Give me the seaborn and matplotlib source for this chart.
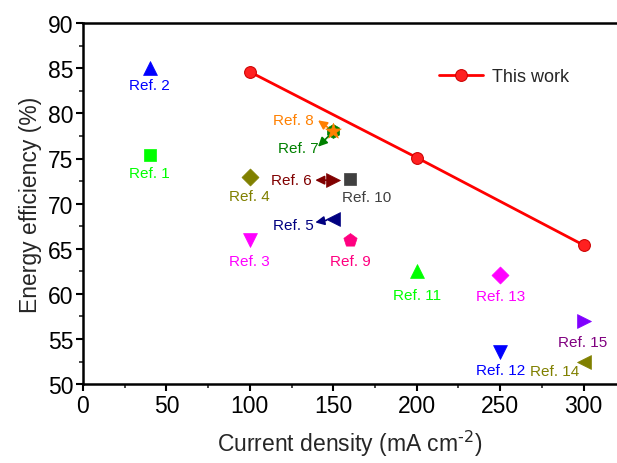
import matplotlib
matplotlib.use("Agg")
import matplotlib.pyplot as plt
import seaborn as sns
import pandas as pd

sns.set_theme(style="ticks")
plt.rcParams['font.family'] = ['Liberation Sans', 'DejaVu Sans']
plt.rcParams['mathtext.default'] = 'regular'

# This work
work_x = [100, 200, 300]
work_y = [84.6, 75.1, 65.4]

# References
ref_names = ["Ref. 1", "Ref. 2", "Ref. 3", "Ref. 4", "Ref. 5", "Ref. 6", "Ref. 7", "Ref. 8",
             "Ref. 9", "Ref. 10", "Ref. 11", "Ref. 12", "Ref. 13", "Ref. 14", "Ref. 15"]
ref_x = [40, 40, 100, 100, 150, 150, 150, 150, 160, 160, 200, 250, 250, 300, 300]
ref_y = [75.4, 85.0, 66.0, 73.0, 68.3, 72.6, 78.0, 78.0, 66.0, 72.7, 62.5, 53.6, 62.1, 52.5, 57.0]
ref_markers = ["s", "^", "v", "D", "<", ">", "h", "*", "p", "s", "^", "v", "D", "<", ">"]
ref_colors = ["#00FF00", "#0000FF", "#FF00FF", "#808000", "#000080", "#800000", "#008000", "#FF8000",
              "#FF0080", "#404040", "#00FF00", "#0000FF", "#FF00FF", "#808000", "#8000FF"]
label_colors = ["#00FF00", "#0000FF", "#FF00FF", "#808000", "#000080", "#800000", "#008000", "#FF8000",
                "#FF0080", "#404040", "#00FF00", "#0000FF", "#FF00FF", "#808000", "#800080"]
ref_sizes = [75, 100, 100, 75, 100, 100, 100, 140, 100, 75, 100, 100, 75, 100, 100]
# label offsets in points (dx, dy) relative to marker
label_offsets = [(0, -13), (0, -12), (0, -15), (0, -14), (-28.5, -4), (-30.5, 0), (-25, -12), (-28.5, 8),
                 (0, -15), (12, -13), (0, -17), (0, -13), (0, -15), (-21, -7), (-1, -15)]
# arrow heads (points, relative to marker) for labels with arrows
arrow_heads = {"Ref. 5": (-13, -2.5), "Ref. 6": (-13, 0), "Ref. 7": (-11, -11), "Ref. 8": (-11, 8)}

df = pd.DataFrame({"name": ref_names, "x": ref_x, "y": ref_y})
work_df = pd.DataFrame({"x": work_x, "y": work_y})

fig = plt.figure(figsize=(6.17, 4.64), dpi=100)
ax = fig.add_axes([0.1345, 0.170, 0.8655, 0.778])

for i, row in df.iterrows():
    sns.scatterplot(data=df.iloc[[i]], x="x", y="y", marker=ref_markers[i], color=ref_colors[i],
                    s=ref_sizes[i], edgecolor=ref_colors[i], linewidth=0.5, ax=ax,
                    zorder=3 + (1 if ref_markers[i] == "*" else 0), legend=False)
    dx, dy = label_offsets[i]
    ax.annotate(row["name"], xy=(row["x"], row["y"]), xytext=(dx, dy), textcoords="offset points",
                ha="center", va="center", fontsize=11, color=label_colors[i], zorder=5)
    if row["name"] in arrow_heads:
        hx, hy = arrow_heads[row["name"]]
        ax.annotate("", xy=(row["x"], row["y"]), xytext=(hx, hy), textcoords="offset points",
                    arrowprops=dict(arrowstyle="<|-,head_length=0.45,head_width=0.22",
                                    color=label_colors[i], lw=1.2, shrinkA=0, shrinkB=5),
                    zorder=5)

sns.lineplot(data=work_df, x="x", y="y", color="#FF0000", linewidth=2, marker="o", markersize=8.5,
             markeredgecolor="#CC0000", markerfacecolor="#FF2020", label="This work", ax=ax, zorder=6)

ax.set_xlim(0, 320)
ax.set_ylim(50, 90)
ax.set_xticks([0, 50, 100, 150, 200, 250, 300])
ax.set_yticks([50, 55, 60, 65, 70, 75, 80, 85, 90])
ax.set_xticks(range(25, 320, 50), minor=True)
ax.set_yticks([52.5 + 5 * k for k in range(8)], minor=True)
ax.tick_params(axis="both", which="major", direction="out", length=5, width=1.5, labelsize=16.5,
               colors="black", pad=2)
ax.tick_params(axis="both", which="minor", direction="out", length=3, width=1.2)
for s in ["left", "bottom", "top"]:
    ax.spines[s].set_linewidth(1.8)
    ax.spines[s].set_color("black")
ax.spines["right"].set_visible(False)

ax.set_xlabel("Current density (mA cm$^{\\text{-2}}$)", fontsize=16.5, labelpad=8)
ax.set_ylabel("Energy efficiency (%)", fontsize=16.5, labelpad=4)

leg = ax.legend(loc="upper right", bbox_to_anchor=(0.94, 0.92), frameon=False, fontsize=13,
                handlelength=2.4, handletextpad=0.5)

fig.savefig("out.png", dpi=100)
